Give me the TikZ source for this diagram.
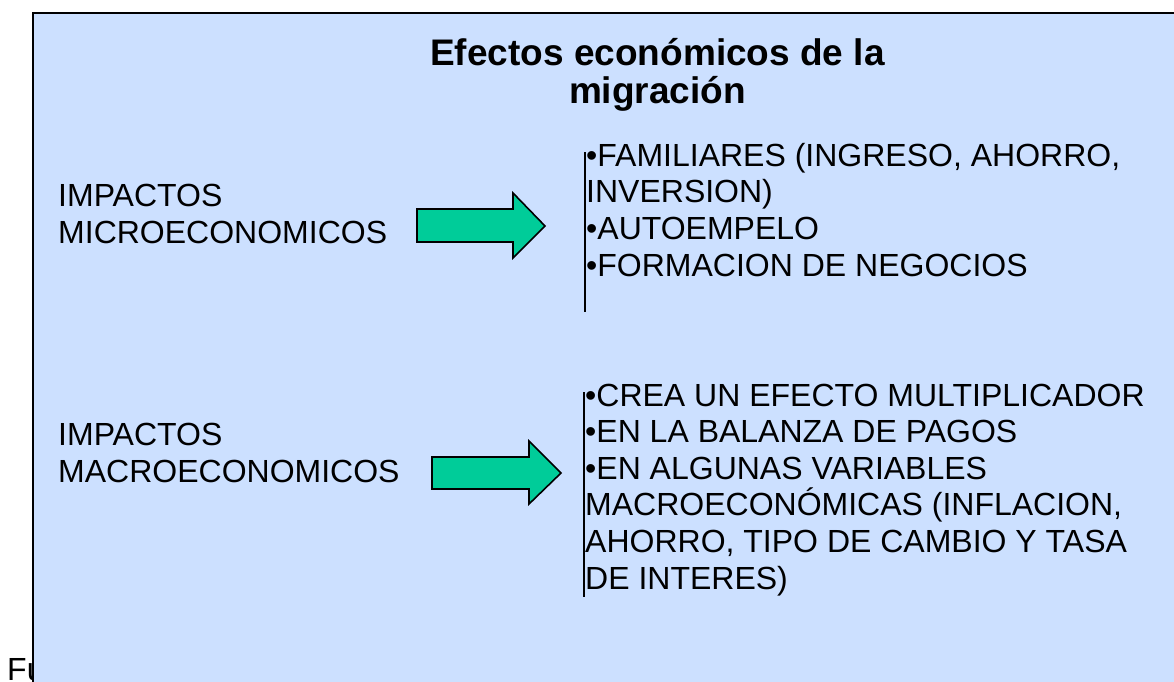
\documentclass[tikz,border=0pt]{standalone}
\usepackage{fontspec}
\setmainfont{Liberation Sans}
\usepackage{tikz}
\definecolor{slideblue}{RGB}{204,224,255}
\definecolor{arrowgreen}{RGB}{0,204,153}

\begin{document}
\begin{tikzpicture}[x=1pt, y=-1pt,
    txt/.style={inner sep=0pt, anchor=base west, align=left,
      font=\fontsize{32}{36.6}\selectfont},
    ttl/.style={inner sep=0pt, anchor=base, align=center,
      font=\fontsize{37}{38}\selectfont\bfseries},
    blockarrow/.style={draw=black, line width=1.6pt, fill=arrowgreen},
    barline/.style={line width=1.5pt}]
  \useasboundingbox (0,0) rectangle (1174,681);
  \node[txt] (fuente) at (7,680) {Fuente};
  \draw[fill=slideblue, line width=2pt] (33,12.5) rectangle (1190,700);
  % titulo (base = ultima linea)
  \node[ttl] (titulo) at (657.5,103) {Efectos económicos de la\\migración};
  % impactos micro
  \node[txt] (micro) at (58,243) {IMPACTOS\\MICROECONOMICOS};
  \draw[blockarrow] (417,209) -- (513,209) -- (513,193) -- (545,226)
    -- (513,258) -- (513,242) -- (417,242) -- cycle;
  \draw[barline] (585,152) -- (585,312);
  \node[txt] (microlist) at (586,276) {\textbullet FAMILIARES (INGRESO, AHORRO,\\INVERSION)\\\textbullet AUTOEMPELO\\\textbullet FORMACION DE NEGOCIOS};
  % impactos macro
  \node[txt] (macro) at (58,482) {IMPACTOS\\MACROECONOMICOS};
  \draw[blockarrow] (432,457) -- (529,457) -- (529,441) -- (561,473)
    -- (529,504) -- (529,489) -- (432,489) -- cycle;
  \draw[barline] (584,392) -- (584,597);
  \node[txt] (macrolist) at (585,589) {\textbullet CREA UN EFECTO MULTIPLICADOR\\\textbullet EN LA BALANZA DE PAGOS\\\textbullet EN ALGUNAS VARIABLES\\MACROECONÓMICAS (INFLACION,\\AHORRO, TIPO DE CAMBIO Y TASA\\DE INTERES)};
\end{tikzpicture}
\end{document}
